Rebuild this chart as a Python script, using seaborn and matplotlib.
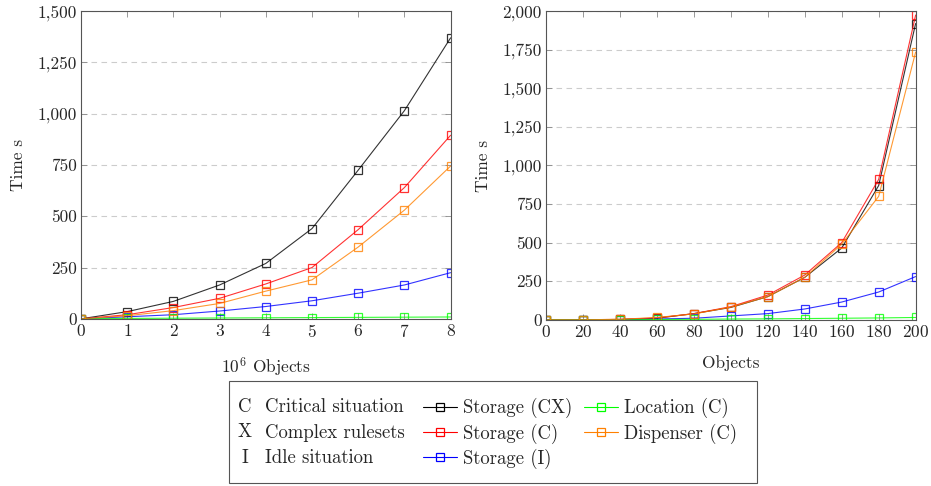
import pandas as pd
import seaborn as sns
import matplotlib.pyplot as plt
from matplotlib.lines import Line2D
from matplotlib.patches import Rectangle
from matplotlib.ticker import FuncFormatter

# left panel: 10^6 objects
x_left = [0, 1, 2, 3, 4, 5, 6, 7, 8]
storage_cx_left = [0, 35, 85, 165, 270, 440, 725, 1015, 1370]
storage_c_left = [0, 20, 55, 100, 170, 250, 435, 640, 895]
dispenser_c_left = [0, 15, 40, 75, 135, 190, 350, 530, 745]
storage_i_left = [0, 10, 20, 38, 60, 88, 125, 165, 225]
location_c_left = [0, 2, 3, 4, 5, 6, 7, 8, 9]

# right panel: objects
x_right = [0, 20, 40, 60, 80, 100, 120, 140, 160, 180, 200]
storage_cx_right = [0, 0, 2, 10, 40, 80, 150, 275, 465, 870, 1920]
storage_c_right = [0, 0, 3, 12, 40, 85, 160, 290, 500, 910, 1975]
dispenser_c_right = [0, 0, 3, 15, 38, 82, 150, 275, 490, 800, 1735]
storage_i_right = [0, 0, 1, 5, 10, 25, 40, 70, 115, 180, 280]
location_c_right = [0, 0, 0, 2, 3, 5, 6, 8, 10, 12, 15]

series = ["Storage (CX)", "Storage (C)", "Storage (I)", "Location (C)", "Dispenser (C)"]
colors = {"Storage (CX)": "#000000", "Storage (C)": "#ff0000", "Storage (I)": "#0000ff",
          "Location (C)": "#00ff00", "Dispenser (C)": "#ff8000"}
abbrevs = [("C", "Critical situation"), ("X", "Complex rulesets"), ("I", "Idle situation")]

left = {"Storage (CX)": storage_cx_left, "Storage (C)": storage_c_left,
        "Storage (I)": storage_i_left, "Location (C)": location_c_left,
        "Dispenser (C)": dispenser_c_left}
right = {"Storage (CX)": storage_cx_right, "Storage (C)": storage_c_right,
         "Storage (I)": storage_i_right, "Location (C)": location_c_right,
         "Dispenser (C)": dispenser_c_right}

sns.set_style("ticks")
plt.rcParams['font.family'] = ['serif']
plt.rcParams['font.serif'] = ['cmr10', 'DejaVu Serif']
plt.rcParams['mathtext.fontset'] = 'cm'
plt.rcParams['axes.formatter.use_mathtext'] = True
plt.rcParams['font.size'] = 12

fig = plt.figure(figsize=(9.31, 4.86), dpi=100)
ax1 = fig.add_axes([0.087, 0.344, 0.397, 0.633])
ax2 = fig.add_axes([0.5865, 0.342, 0.397, 0.635])


def draw(ax, xs, data, ymax, ystep, xlabel):
    rows = []
    for name in series:
        for xv, yv in zip(xs, data[name]):
            rows.append({"x": xv, "y": yv, "series": name})
    df = pd.DataFrame(rows)
    for name in series:
        sub = df[df["series"] == name]
        sns.lineplot(data=sub, x="x", y="y", ax=ax, color=colors[name],
                     marker="s", markersize=5.8, markerfacecolor="none",
                     markeredgecolor=colors[name], markeredgewidth=0.9,
                     linewidth=0.8, alpha=0.8, legend=False)
    ax.set_xlim(xs[0], xs[-1])
    ax.set_ylim(0, ymax)
    ax.set_xticks(xs)
    ax.set_yticks(range(0, ymax + 1, ystep))
    ax.yaxis.set_major_formatter(FuncFormatter(lambda v, p: f"{v:,.0f}"))
    ax.tick_params(direction="in", top=True, right=True, length=4,
                   width=0.6, color="#888888", labelsize=12.5, pad=3)
    ax.grid(axis="y", linestyle=(0, (5, 4)), color="#cccccc", linewidth=0.8)
    for s in ax.spines.values():
        s.set_linewidth(0.8)
        s.set_color("#555555")
    ax.set_xlabel(xlabel, fontsize=12.5, labelpad=11)
    ax.set_ylabel("Time s", fontsize=12.5, labelpad=8)


draw(ax1, x_left, left, 1500, 250, r"$10^6$ Objects")
draw(ax2, x_right, right, 2000, 250, "Objects")

# legend box
fig.add_artist(Rectangle((229 / 931, 1 - 483 / 486), 528 / 931, 102 / 486,
                         transform=fig.transFigure, fill=False,
                         edgecolor="#555555", linewidth=0.8))
for i, (k, desc) in enumerate(abbrevs):
    yy = 1 - (407 + 25.5 * i) / 486
    fig.text(245 / 931, yy, k, ha="center", va="center", fontsize=13.5)
    fig.text(265 / 931, yy, desc, ha="left", va="center", fontsize=13.5)

handles = [Line2D([], [], color=colors[n], marker="s", markerfacecolor="none",
                  markersize=5.5, linewidth=0.8, markeredgewidth=0.9) for n in series]
order = ["Storage (CX)", "Storage (C)", "Storage (I)", "Location (C)", "Dispenser (C)"]
fig.legend(handles=[handles[series.index(n)] for n in order], labels=order,
           ncol=2, loc="upper left", bbox_to_anchor=(423 / 931, 1 - 398 / 486),
           frameon=False, fontsize=13.5, handlelength=1.8, handletextpad=0.35,
           columnspacing=0.6, labelspacing=0.28, borderpad=0, borderaxespad=0)

fig.savefig("out.png", dpi=100)
